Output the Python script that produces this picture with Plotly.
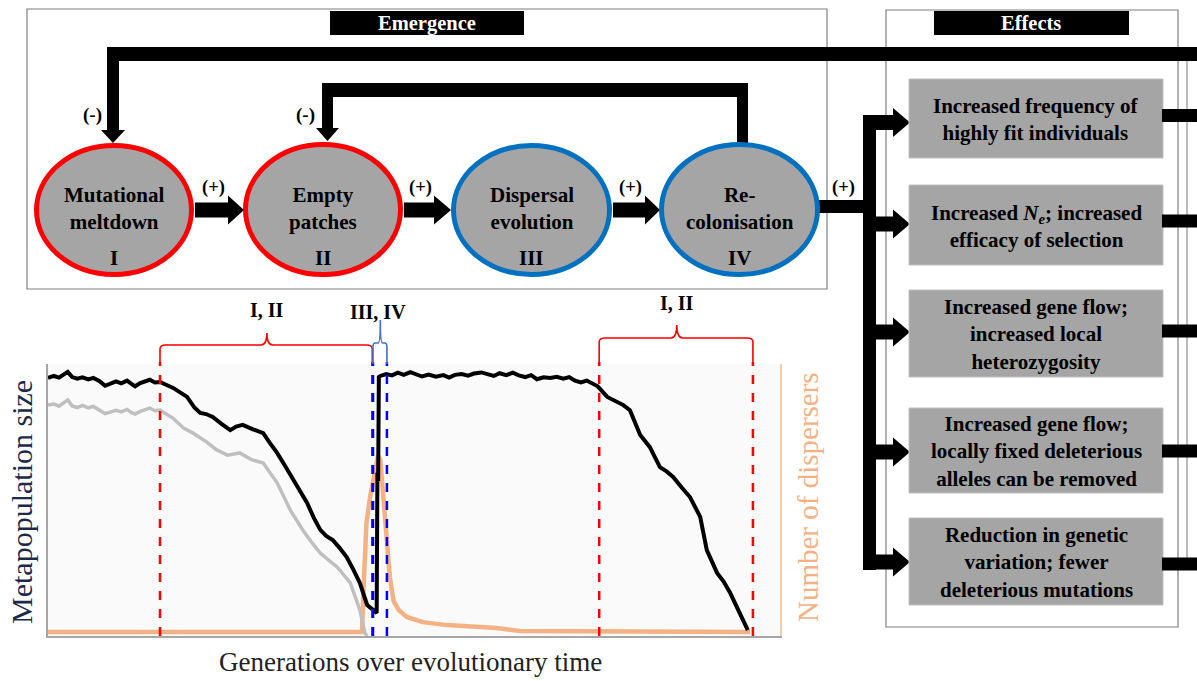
import plotly.graph_objects as go

W, H = 1197, 681
FONT = "Liberation Serif, Times New Roman, serif"

# ---------------- data ----------------
gen_meta = [0, 8, 15, 22, 27, 33, 40, 47, 55, 62, 70, 78, 85, 93, 100, 108, 114, 119, 126, 133, 139, 146, 153,
            171, 180, 190, 200, 208, 216, 225, 237, 249, 257, 266, 280, 294, 303, 313, 324, 335, 345, 354, 363,
            372, 380, 389, 398, 408, 417, 426, 436, 444, 449, 450, 451, 452,
            454, 462, 470, 478, 486, 495, 503, 511, 520, 530, 540, 548, 556, 565, 574, 582, 592, 600, 609, 617,
            626, 635, 643, 652, 660, 668, 677, 686, 695, 704, 712, 720, 728, 736, 744, 751,
            764, 775, 786, 795, 809, 822, 836, 845, 854, 866, 877, 891, 900, 914, 923, 932, 945, 956]
meta = [94.9, 95.6, 95.0, 96.0, 97.1, 95.2, 94.6, 95.1, 94.3, 94.9, 93.8, 92.0, 92.6, 93.6, 92.9, 93.9, 92.7, 91.8,
        93.0, 93.8, 94.2, 93.2, 93.4,
        91.2, 89.8, 87.9, 84.0, 82.0, 81.6, 80.5, 78.0, 75.7, 77.0, 77.6, 76.0, 74.6, 71.0, 67.3, 62.5, 57.4, 53.0,
        48.9, 43.5, 39.0, 36.8, 35.3, 32.5, 29.0, 24.5, 19.5, 11.4, 9.6, 8.5, 60.0, 57.0, 95.2,
        95.6, 96.3, 95.8, 96.8, 96.0, 97.0, 96.2, 95.4, 96.1, 95.3, 95.9, 95.0, 96.0, 96.3, 95.7, 96.5, 96.9,
        96.4, 95.6, 96.6, 95.9, 96.8, 95.8, 95.2, 95.9, 94.4, 95.1, 94.9, 95.3, 94.6, 95.2, 93.9, 93.2, 93.9,
        92.8, 91.8,
        87.9, 86.5, 84.9, 83.0, 73.9, 69.5, 62.1, 60.5, 58.5, 54.5, 51.1, 43.8, 31.6, 23.2, 20.0, 15.8, 8.8, 2.2]

gen_grey = [0, 8, 15, 22, 27, 33, 40, 47, 55, 62, 70, 78, 85, 93, 100, 108, 114, 119, 126, 133, 139, 146, 153,
            171, 185, 198, 217, 230, 245, 262, 278, 294, 313, 331, 348, 360, 372, 385, 395, 413, 426, 433, 436]
grey = [84.9, 85.3, 84.5, 85.8, 86.8, 84.6, 84.0, 84.8, 83.9, 84.4, 83.1, 81.8, 82.3, 83.0, 82.4, 83.3, 82.1, 81.6,
        82.6, 83.4, 83.8, 82.8, 83.1,
        80.0, 76.5, 74.6, 71.3, 68.5, 66.5, 67.3, 64.8, 63.6, 56.3, 46.3, 39.0, 34.5, 30.5, 27.5, 25.4, 19.5, 9.6,
        1.1, 0.0]

gen_disp = [0, 429, 431, 435, 440, 447, 451, 454, 458, 463, 467, 472, 479, 490, 512, 545, 613, 645, 959]
disp = [1.5, 1.5, 16.9, 41.5, 51.1, 61.0, 66.5, 64.7, 51.1, 34.2, 21.7, 12.9, 9.6, 7.0, 5.1, 4.0, 2.9, 1.8, 1.5]

phase_red = [153, 443, 753, 963]
phase_blue = [444, 463]
brace_labels = ["I, II", "III, IV", "I, II"]

stages = ["Mutational<br>meltdown", "Empty<br>patches", "Dispersal<br>evolution", "Re-<br>colonisation"]
stage_num = ["I", "II", "III", "IV"]
effects = ["Increased frequency of<br>highly fit individuals",
           "Increased <i>N<sub>e</sub></i>; increased<br>efficacy of selection",
           "Increased gene flow;<br>increased local<br>heterozygosity",
           "Increased gene flow;<br>locally fixed deleterious<br>alleles can be removed",
           "Reduction in genetic<br>variation; fewer<br>deleterious mutations"]


def X(x):
    return x / W


def Y(y):
    return 1 - y / H


def poly(pts, color="black"):
    d = "M " + " L ".join(f"{X(a):.5f},{Y(b):.5f}" for a, b in pts) + " Z"
    return dict(type="path", xref="paper", yref="paper", path=d, fillcolor=color,
                line=dict(width=0), layer="above")


def rect(x0, y0, x1, y1, fill="rgba(0,0,0,0)", lc="#7f7f7f", lw=1.2):
    return dict(type="rect", xref="paper", yref="paper", x0=X(x0), x1=X(x1), y0=Y(y1), y1=Y(y0),
                fillcolor=fill, line=dict(color=lc, width=lw), layer="above")


def harrow(x0, xh, xt, yc, sh=7.5, hh=14.5):
    return poly([(x0, yc - sh), (xh, yc - sh), (xh, yc - hh), (xt, yc), (xh, yc + hh), (xh, yc + sh),
                 (x0, yc + sh)])


shapes = []
# frames
shapes.append(rect(27, 9, 827, 289))
shapes.append(rect(886, 10, 1178, 627))
shapes.append(dict(type="line", xref="paper", yref="paper", x0=X(1187), x1=X(1187), y0=Y(61), y1=Y(570),
                   line=dict(color="#8c8c8c", width=1.2)))
# title tabs
shapes.append(rect(330, 11, 524, 35, fill="black", lc="black", lw=0))
shapes.append(rect(934, 11, 1129, 35, fill="black", lc="black", lw=0))

# outer feedback arrow (to Mutational meltdown)
shapes.append(poly([(1200, 47), (1200, 61), (119, 61), (119, 130), (125, 130), (113, 143), (101, 130),
                    (107, 130), (107, 47)]))
# inner feedback arrow (Re-colonisation -> Empty patches)
shapes.append(poly([(748, 150), (737, 150), (737, 97), (333, 97), (333, 128), (339, 128), (327.5, 141),
                    (316, 128), (322, 128), (322, 83), (748, 83)]))

# stage-to-stage arrows
shapes.append(harrow(195, 228, 244, 210))
shapes.append(harrow(404, 434, 451, 210))
shapes.append(harrow(613, 645, 660, 210))
# main (+) connector and branch
shapes.append(poly([(815, 200), (863, 200), (863, 115), (876, 115), (876, 570), (863, 570), (863, 213),
                    (815, 213)]))
effect_boxes = [(79, 158), (185, 265), (290, 377), (408, 493), (518, 605)]
arrow_y = [122.5, 224, 332, 452, 562]
conn_y = [115.5, 221, 331, 451, 564]
for (ya, yb), ay, cy in zip(effect_boxes, arrow_y, conn_y):
    shapes.append(harrow(870, 893, 910, ay))
    shapes.append(rect(909, ya, 1163, yb, fill="#a5a5a5", lc="#c0c0c0", lw=1))
    shapes.append(poly([(1162, cy - 6.5), (1200, cy - 6.5), (1200, cy + 6.5), (1162, cy + 6.5)]))

# ellipses
ell = [(34, 143, 194, 277, "#ff0000"), (243, 142, 403, 277, "#ff0000"),
       (451, 143, 612, 277, "#0070c0"), (659, 142, 820, 277, "#0070c0")]
for x0, y0, x1, y1, c in ell:
    shapes.append(dict(type="circle", xref="paper", yref="paper", x0=X(x0 + 2.5), x1=X(x1 - 2.5),
                       y0=Y(y1 - 2.5), y1=Y(y0 + 2.5), fillcolor="#a5a5a5", line=dict(color=c, width=5),
                       layer="above"))

# dashed phase lines on the chart
for g in phase_red:
    shapes.append(dict(type="line", xref="x", yref="paper", x0=g, x1=g, y0=Y(636), y1=Y(362),
                       line=dict(color="#ff0000", width=2.5, dash="dash"), layer="above"))
for g in phase_blue:
    shapes.append(dict(type="line", xref="x", yref="paper", x0=g, x1=g, y0=Y(636), y1=Y(362),
                       line=dict(color="#0000ff", width=2.5, dash="dash"), layer="above"))


def brace(x0, x1, xm, yb, yh, yt, r, color):
    Yb, Yh, Yt = Y(yb), Y(yh), Y(yt)
    d = 4 / H
    p = (f"M {x0},{Yb:.5f} L {x0},{Yh - d:.5f} Q {x0},{Yh:.5f} {x0 + r},{Yh:.5f} L {xm - r},{Yh:.5f} "
         f"Q {xm},{Yh:.5f} {xm},{Yt:.5f} Q {xm},{Yh:.5f} {xm + r},{Yh:.5f} L {x1 - r},{Yh:.5f} "
         f"Q {x1},{Yh:.5f} {x1},{Yh - d:.5f} L {x1},{Yb:.5f}")
    return dict(type="path", xref="x", yref="paper", path=p, line=dict(color=color, width=1.6),
                layer="above")


shapes.append(brace(phase_red[0], phase_red[1], 299, 364, 345, 333, 8, "#ff0000"))
shapes.append(brace(phase_blue[0], phase_blue[1], 454, 364, 343, 320, 3, "#4472c4"))
shapes.append(brace(phase_red[2], phase_red[3], 859, 364, 338, 325, 8, "#ff0000"))

# ---------------- annotations ----------------
ann = []


def text(t, x, y, size, color="black", angle=0, bold=True, xref="paper"):
    ann.append(dict(text=f"<b>{t}</b>" if bold else t, x=X(x) if xref == "paper" else x, y=Y(y),
                    xref=xref, yref="paper", showarrow=False, xanchor="center", yanchor="middle",
                    textangle=angle, font=dict(family=FONT, size=size, color=color)))


text("Emergence", 427, 23, 20.5, "white")
text("Effects", 1031, 23, 20.5, "white")
centers = [114, 323, 531.5, 739.5]
for cx, s, n in zip(centers, stages, stage_num):
    text(s, cx, 209, 21)
    text(n, cx, 258, 21)
for lx in [213, 420, 630, 843]:
    text("(+)", lx, 188, 18.5)
for lx in [92, 305]:
    text("(-)", lx, 115, 19)
for (ya, yb), t in zip(effect_boxes, effects):
    text(t, 1036, (ya + yb) / 2 + 1, 21)

text(brace_labels[0], 299, 310, 20, xref="x")
text(brace_labels[1], 451, 312, 20, xref="x")
text(brace_labels[2], 859, 303, 20, xref="x")

text("Metapopulation size", 22, 502, 30, "#1c2a48", angle=-90, bold=False)
text("Number of dispersers", 808, 497, 29, "#f4b183", angle=-90, bold=False)
text("Generations over evolutionary time", 410, 662, 27, "#222222", bold=False)

# ---------------- figure ----------------
fig = go.Figure()
fig.add_trace(go.Scatter(x=gen_disp, y=disp, mode="lines", yaxis="y",
                         line=dict(color="#f4b183", width=4.5), name="Number of dispersers"))
fig.add_trace(go.Scatter(x=gen_grey, y=grey, mode="lines", yaxis="y2",
                         line=dict(color="#bfbfbf", width=3.5), name="Metapopulation size (grey)"))
fig.add_trace(go.Scatter(x=gen_meta, y=meta, mode="lines", yaxis="y2",
                         line=dict(color="black", width=4), name="Metapopulation size"))

fig.update_layout(
    width=W, height=H, margin=dict(l=0, r=0, t=0, b=0),
    paper_bgcolor="white", plot_bgcolor="#fafafa", showlegend=False,
    xaxis=dict(domain=[X(48), X(780)], range=[0, 1000], showline=True, linecolor="#a6a6a6", linewidth=2,
               showgrid=False, zeroline=False, showticklabels=False, ticks=""),
    yaxis=dict(domain=[Y(636), Y(364)], range=[0, 100], side="right", showline=True, linecolor="#f8cbad",
               linewidth=2, showgrid=False, zeroline=False, showticklabels=False, ticks=""),
    yaxis2=dict(range=[0, 100], overlaying="y", side="left", showline=True, linecolor="#a6a6a6",
                linewidth=2, showgrid=False, zeroline=False, showticklabels=False, ticks=""),
    shapes=shapes, annotations=ann,
)

fig.write_html("out.html", config={"displayModeBar": False},
               post_script="document.body.style.margin='0px';document.body.style.overflow='hidden';")
